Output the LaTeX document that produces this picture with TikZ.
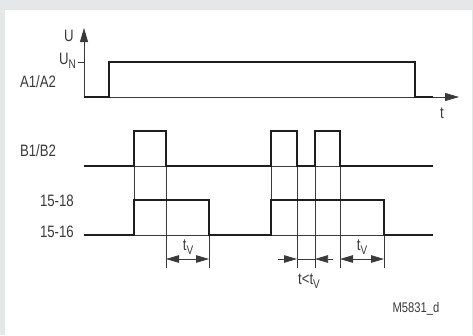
\documentclass[tikz,border=0pt]{standalone}
\usepackage{fontspec}
\setmainfont{Liberation Sans}[FakeStretch=0.8]
\usetikzlibrary{arrows.meta}

\definecolor{framegray}{HTML}{E6E7E9}
\definecolor{inkgray}{HTML}{3A3A3A}
\definecolor{wavegray}{HTML}{1E1E1E}
\newcommand{\lowidx}[1]{\raisebox{-0.45ex}{\fontsize{12.5}{12.5}\selectfont #1}}

\begin{document}
\begin{tikzpicture}[x=1pt,y=-1pt,
    wave/.style={line width=2pt, wavegray, line join=miter},
    guide/.style={line width=0.75pt, inkgray},
    axisline/.style={line width=0.8pt, inkgray, -{Triangle[length=14pt,width=8pt]}},
    dimline/.style={line width=0.8pt, inkgray, {Triangle[length=13pt,width=7.5pt]}-{Triangle[length=13pt,width=7.5pt]}},
    lbl/.style={text=inkgray, inner sep=0pt, font=\fontsize{16.5}{16.5}\selectfont}]
    % frame
    \fill[framegray] (0,0) rectangle (473,335);
    \fill[white] (5,10) rectangle (472,335);
    \useasboundingbox (0,0) rectangle (473,335);

    % axes
    \coordinate (orig) at (84,97);
    \coordinate (utop) at (84,28);
    \coordinate (tend) at (459,97);
    \draw[axisline] (orig) -- (utop);
    \draw[axisline] (orig) -- (tend);
    \draw[guide] (78,62) -- (84,62);

    % thin base lines
    \draw[guide] (84,166) -- (433,166);
    \draw[guide] (84,235) -- (433,235);

    % guide lines
    \draw[guide] (134,131) -- (134,235);
    \draw[guide] (166,131) -- (166,268);
    \draw[guide] (209,200) -- (209,268);
    \draw[guide] (271,131) -- (271,235);
    \draw[guide] (297,131) -- (297,268);
    \draw[guide] (315,131) -- (315,268);
    \draw[guide] (340,131) -- (340,268);
    \draw[guide] (384,200) -- (384,268);

    % signals
    \draw[wave] (84,97) -- (109,97) -- (109,62) -- (415,62) -- (415,97) -- (433,97);
    \draw[wave] (84,166) -- (134,166) -- (134,131) -- (166,131) -- (166,166)
        -- (271,166) -- (271,131) -- (297,131) -- (297,166)
        -- (315,166) -- (315,131) -- (340,131) -- (340,166) -- (433,166);
    \draw[wave] (84,235) -- (134,235) -- (134,200) -- (209,200) -- (209,235)
        -- (271,235) -- (271,200) -- (384,200) -- (384,235) -- (433,235);

    % time spans
    \coordinate (tva) at (166,259);
    \coordinate (tvb) at (209,259);
    \coordinate (tsa) at (278,259);
    \coordinate (tsb) at (297,259);
    \coordinate (tsc) at (315,259);
    \coordinate (tsd) at (333,259);
    \coordinate (tvc) at (340,259);
    \coordinate (tvd) at (384,259);
    \draw[dimline] (tva) -- (tvb);
    \draw[dimline] (tvc) -- (tvd);
    \draw[guide, -{Triangle[length=13pt,width=7.5pt]}] (tsa) -- (tsb);
    \draw[guide] (tsb) -- (tsc);
    \draw[guide, -{Triangle[length=13pt,width=7.5pt]}] (tsd) -- (tsc);

    % labels
    \node[lbl] (u) at (69,36) {U};
    \node[lbl, anchor=east] (un) at (76,61) {U\lowidx{N}};
    \node[lbl] (t) at (442,113) {t};
    \node[lbl] (a1a2) at (38,82) {A1/A2};
    \node[lbl] (b1b2) at (38,151) {B1/B2};
    \node[lbl, anchor=east] (o1518) at (74,201) {15-18};
    \node[lbl, anchor=east] (o1516) at (74,232) {15-16};
    \node[lbl] (tv1) at (188,247) {t\lowidx{V}};
    \node[lbl] (tv2) at (362,247) {t\lowidx{V}};
    \node[lbl] (tless) at (309,281) {t<t\lowidx{V}};
    \node[lbl, font=\fontsize{14}{14}\selectfont] (code) at (416,309) {M5831\_d};
\end{tikzpicture}
\end{document}
